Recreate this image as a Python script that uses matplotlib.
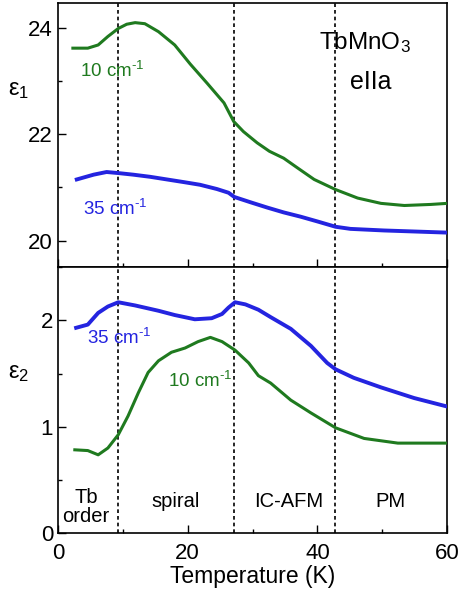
import matplotlib
matplotlib.use("Agg")
import matplotlib.pyplot as plt
from matplotlib.ticker import MultipleLocator

plt.rcParams['font.family'] = ['Liberation Sans', 'DejaVu Sans']
plt.rcParams['mathtext.fontset'] = 'custom'
plt.rcParams['mathtext.rm'] = 'Liberation Sans'
plt.rcParams['mathtext.it'] = 'Liberation Sans:italic'

# ---- data ----
T_e1_10 = [2.3, 4.6, 6.2, 7.7, 9.3, 10.6, 11.9, 13.4, 15.5, 18.0, 20.4, 23.0, 25.6, 27.1, 28.6, 30.7, 32.6, 34.8, 36.9, 39.5, 42.8, 46.2, 49.8, 53.4, 57.5, 60.0]
e1_10 = [23.62, 23.62, 23.68, 23.84, 23.99, 24.07, 24.10, 24.08, 23.93, 23.68, 23.32, 22.96, 22.59, 22.24, 22.05, 21.84, 21.68, 21.55, 21.37, 21.15, 20.96, 20.80, 20.70, 20.66, 20.68, 20.70]

T_e1_35 = [2.9, 5.5, 7.5, 9.3, 11.6, 14.2, 16.8, 19.4, 21.9, 24.5, 26.3, 27.2, 29.7, 32.3, 34.8, 37.4, 40.0, 42.8, 45.1, 50.3, 60.0]
e1_35 = [21.15, 21.24, 21.29, 21.27, 21.24, 21.20, 21.15, 21.10, 21.05, 20.97, 20.90, 20.82, 20.72, 20.62, 20.53, 20.45, 20.36, 20.26, 20.22, 20.19, 20.15]

T_e2_35 = [2.8, 4.6, 6.2, 7.7, 9.3, 11.9, 15.5, 18.0, 21.1, 23.7, 25.3, 26.3, 27.3, 28.9, 30.9, 32.8, 35.9, 39.0, 41.5, 42.8, 45.6, 49.8, 54.9, 60.0]
e2_35 = [1.93, 1.96, 2.07, 2.13, 2.17, 2.14, 2.09, 2.05, 2.01, 2.02, 2.06, 2.12, 2.17, 2.15, 2.10, 2.03, 1.92, 1.76, 1.60, 1.54, 1.46, 1.37, 1.27, 1.19]

T_e2_10 = [2.6, 4.6, 6.2, 7.7, 9.3, 10.8, 12.4, 13.9, 15.5, 17.5, 19.6, 21.6, 23.5, 25.3, 27.3, 29.4, 30.9, 32.8, 35.9, 39.0, 42.8, 47.2, 52.4, 60.0]
e2_10 = [0.783, 0.776, 0.736, 0.80, 0.925, 1.10, 1.32, 1.51, 1.62, 1.70, 1.74, 1.80, 1.84, 1.80, 1.72, 1.60, 1.48, 1.41, 1.25, 1.13, 0.99, 0.89, 0.846, 0.846]

transitions = [9.3, 27.2, 42.7]
phase_labels = ["Tb\norder", "spiral", "IC-AFM", "PM"]
phase_x = [4.3, 18.1, 35.6, 51.3]

green = '#1f7a1f'
blue = '#2424e0'

fig = plt.figure(figsize=(4.6, 5.95), dpi=100)
L, W = 0.126, 0.846
ax1 = fig.add_axes([L, 0.551, W, 0.444])
ax2 = fig.add_axes([L, 0.104, W, 0.447], sharex=ax1)

for ax in (ax1, ax2):
    for xv in transitions:
        ax.axvline(xv, color='black', lw=1.2, ls=(0, (2.2, 1.8)), zorder=1)
    ax.tick_params(direction='in', which='both', labelsize=16, length=6, width=1)
    ax.tick_params(which='minor', length=3)
    for s in ax.spines.values():
        s.set_linewidth(1.2)
ax2.tick_params(axis='x', pad=7)

ax1.plot(T_e1_10, e1_10, color=green, lw=2.2, zorder=3)
ax1.plot(T_e1_35, e1_35, color=blue, lw=2.8, zorder=3)
ax2.plot(T_e2_35, e2_35, color=blue, lw=2.8, zorder=3)
ax2.plot(T_e2_10, e2_10, color=green, lw=2.2, zorder=3)

ax1.set_xlim(0, 60)
ax1.set_ylim(19.5, 24.47)
ax2.set_ylim(0, 2.5)
ax1.xaxis.set_major_locator(MultipleLocator(20))
ax1.xaxis.set_minor_locator(MultipleLocator(10))
ax1.yaxis.set_major_locator(MultipleLocator(2))
ax1.yaxis.set_minor_locator(MultipleLocator(1))
ax2.yaxis.set_major_locator(MultipleLocator(1))
ax2.yaxis.set_minor_locator(MultipleLocator(0.5))
ax1.tick_params(labelbottom=False)

ax2.set_xlabel('Temperature (K)', fontsize=16.5, labelpad=1)
ax1.set_ylabel('ε$_1$', fontsize=17, rotation=0)
ax1.yaxis.set_label_coords(-0.1, 0.63)
ax2.set_ylabel('ε$_2$', fontsize=17, rotation=0)
ax2.yaxis.set_label_coords(-0.1, 0.56)

ax1.text(47.3, 23.72, 'TbMnO$_3$', fontsize=17.5, ha='center', va='center')
ax1.text(48.2, 22.98, 'eIIa', fontsize=18, ha='center', va='center')
ax1.text(3.4, 23.2, '10 cm$^{\\text{-1}}$', fontsize=13.5, color=green, ha='left', va='center')
ax1.text(3.9, 20.6, '35 cm$^{\\text{-1}}$', fontsize=13.5, color=blue, ha='left', va='center')
ax2.text(4.5, 1.83, '35 cm$^{\\text{-1}}$', fontsize=13.5, color=blue, ha='left', va='center')
ax2.text(17.0, 1.43, '10 cm$^{\\text{-1}}$', fontsize=13.5, color=green, ha='left', va='center')

for lab, xv in zip(phase_labels, phase_x):
    ax2.text(xv, 0.245 if '\n' in lab else 0.30, lab, fontsize=14.5, ha='center', va='center', linespacing=1.05)

fig.savefig('out.png', dpi=100)
